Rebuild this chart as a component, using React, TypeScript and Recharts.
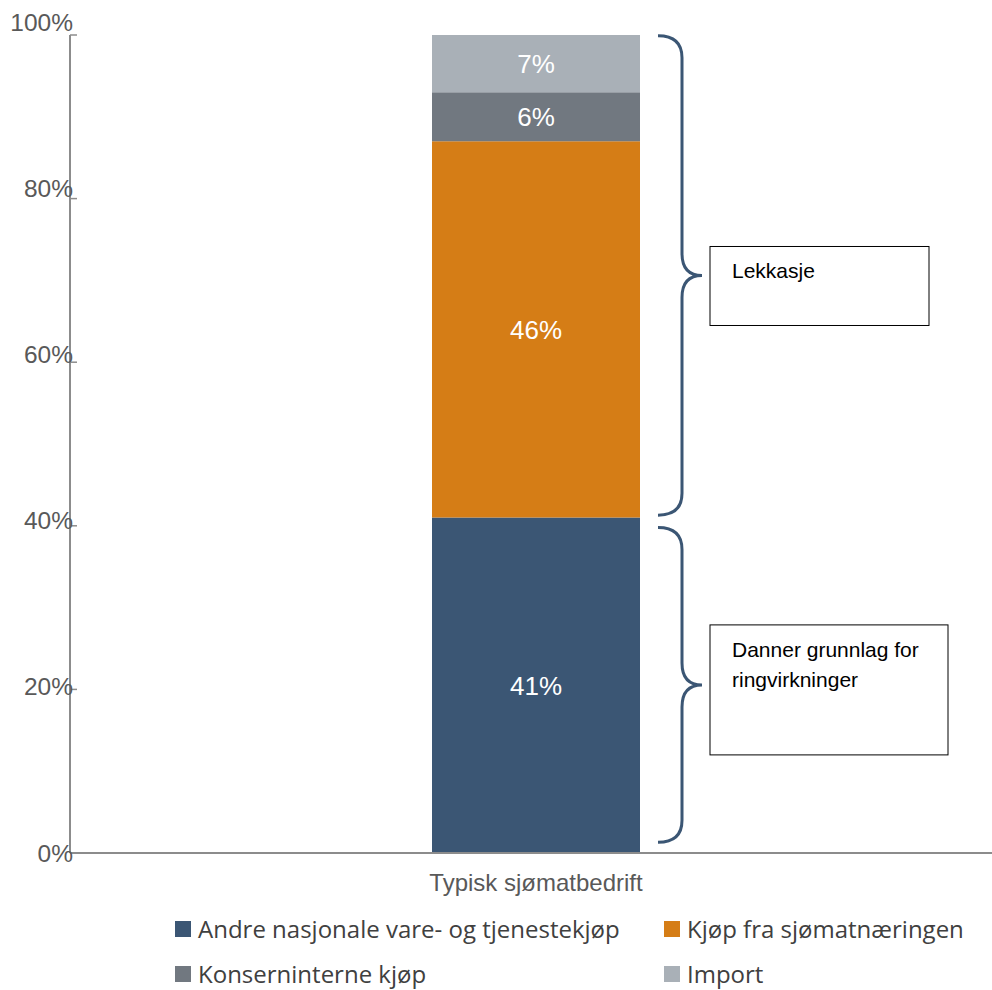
import React from 'react';
import {
  BarChart,
  Bar,
  XAxis,
  YAxis,
  LabelList,
  ReferenceArea,
} from 'recharts';

document.body.style.margin = '0';

const categories = ['Typisk sjømatbedrift'];
const andreNasjonale = [0.41];
const kjopSjomat = [0.46];
const konserninterne = [0.06];
const importShare = [0.07];
const yTicks = [0, 0.2, 0.4, 0.6, 0.8, 1];

const SERIES = [
  { key: 'andre', name: 'Andre nasjonale vare- og tjenestekjøp', color: '#3B5674' },
  { key: 'kjop', name: 'Kjøp fra sjømatnæringen', color: '#D57D16' },
  { key: 'konsern', name: 'Konserninterne kjøp', color: '#717880' },
  { key: 'import', name: 'Import', color: '#A9B0B7' },
];

const data = categories.map((name, i) => ({
  name,
  andre: andreNasjonale[i],
  kjop: kjopSjomat[i],
  konsern: konserninterne[i],
  import: importShare[i],
}));

const pct = (v: number) => `${Math.round(v * 100)}%`;

function YTick(props: any) {
  const { x, y, payload } = props;
  const lift = -13 * payload.value;
  return (
    <g>
      <line x1={x} y1={y} x2={x + 7} y2={y} stroke="#8c8c8c" strokeWidth={1.5} />
      <text
        x={x + 3}
        y={y + lift}
        dy="0.35em"
        textAnchor="end"
        fontFamily="Liberation Sans, Arial, sans-serif"
        fontSize={24.5}
        fill="#595959"
      >
        {pct(payload.value)}
      </text>
    </g>
  );
}

function makeBrace(lines: string[], boxW: number, boxH: number, boxUp: number) {
  return (props: any) => {
    const { x, y, width, height } = props;
    const x0 = x + width / 2 + 122;
    const x1 = x0 + 24;
    const tip = x0 + 44;
    const top = y;
    const bot = y + height;
    const mid = (top + bot) / 2;
    const r = 22;
    const d = `M ${x0} ${top} Q ${x1} ${top} ${x1} ${top + r} L ${x1} ${mid - r} Q ${x1} ${mid} ${tip} ${mid} Q ${x1} ${mid} ${x1} ${mid + r} L ${x1} ${bot - r} Q ${x1} ${bot} ${x0} ${bot}`;
    const bx = tip + 8;
    const by = mid - boxUp;
    return (
      <g>
        <path d={d} fill="none" stroke="#3B5674" strokeWidth={3} />
        <rect x={bx} y={by} width={boxW} height={boxH} fill="#fff" stroke="#000" strokeWidth={1} />
        {lines.map((l, i) => (
          <text
            key={l}
            x={bx + 22}
            y={by + 32 + i * 30}
            fontFamily="Liberation Sans, Arial, sans-serif"
            fontSize={21}
            fill="#000"
          >
            {l}
          </text>
        ))}
      </g>
    );
  };
}

export default function App() {
  return (
    <div style={{ position: 'relative', width: 992, height: 990, overflow: 'hidden', background: '#fff' }}>
      <BarChart
        width={1002}
        height={900}
        data={data}
        margin={{ top: 35, right: 0, bottom: 0, left: 0 }}
      >
        <XAxis
          dataKey="name"
          height={47}
          axisLine={{ stroke: '#8c8c8c', strokeWidth: 2 }}
          tickLine={false}
          tickMargin={15}
          tick={{ fontSize: 24, fill: '#595959', fontFamily: 'Liberation Sans, Arial, sans-serif' }}
        />
        <YAxis
          width={70}
          domain={[0, 1]}
          ticks={yTicks}
          tickSize={0}
          tickMargin={0}
          tickLine={false}
          axisLine={{ stroke: '#8c8c8c', strokeWidth: 2 }}
          tick={<YTick />}
        />
        {SERIES.map((s) => (
          <Bar key={s.key} dataKey={s.key} name={s.name} stackId="a" fill={s.color} barSize={208} isAnimationActive={false}>
            <LabelList
              dataKey={s.key}
              position="center"
              formatter={(v: any) => pct(Number(v))}
              fill="#fff"
              fontSize={26}
              fontFamily="Liberation Sans, Arial, sans-serif"
            />
          </Bar>
        ))}
        <ReferenceArea
          y1={0.413}
          y2={0.999}
          fill="none"
          stroke="none"
          shape={makeBrace(['Lekkasje'], 219, 79, 29)}
        />
        <ReferenceArea
          y1={0.013}
          y2={0.398}
          fill="none"
          stroke="none"
          shape={makeBrace(['Danner grunnlag for', 'ringvirkninger'], 238, 130, 60)}
        />
      </BarChart>
      <div
        style={{
          position: 'absolute',
          top: 912,
          left: 175,
          display: 'grid',
          gridTemplateColumns: '489px 320px',
          rowGap: 12,
          fontFamily: 'Open Sans, sans-serif',
          fontSize: 24,
          color: '#404040',
          lineHeight: '33px',
        }}
      >
        {SERIES.map((s) => (
          <div key={s.key} style={{ display: 'flex', alignItems: 'center', whiteSpace: 'nowrap' }}>
            <span style={{ width: 16, height: 16, background: s.color, marginRight: 7, display: 'inline-block' }} />
            {s.name}
          </div>
        ))}
      </div>
    </div>
  );
}
